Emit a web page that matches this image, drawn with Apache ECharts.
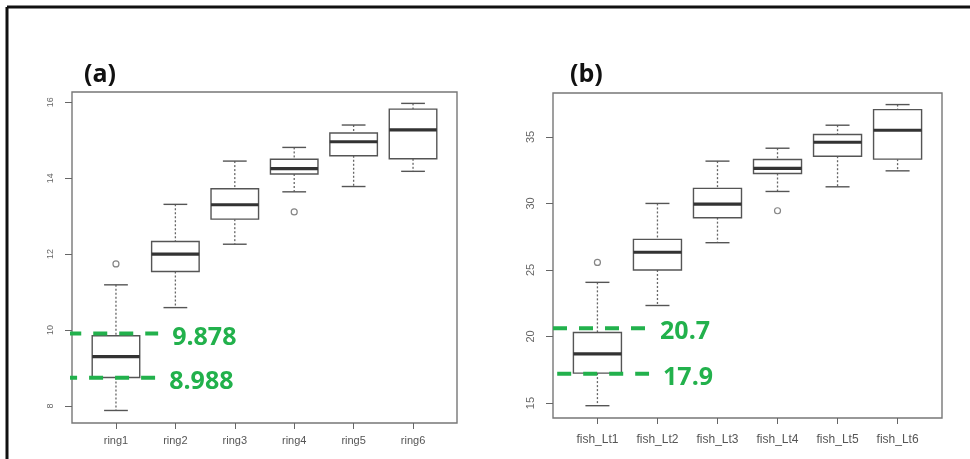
<!DOCTYPE html>
<html lang="en" style="background: #FFFFFF;height: 100%">
	<head>
		<meta charset="utf-8" />
		<title>ring / fish boxplots</title>
		<script type="text/javascript" src="https://cdn.jsdelivr.net/npm/echarts@6/dist/echarts.min.js"></script>
	</head>
	<style>
		html,body {
			margin: 0;
			padding: 0;
		}
		body {
			overflow: hidden;
		}
	</style>
	<body style="height: 100%;">
		<div id="chart" style="width: 970px;height: 459px"></div>
		<script>
			// panel (a): ring
			var ringNames = ['ring1', 'ring2', 'ring3', 'ring4', 'ring5', 'ring6'];
			var ringLow  = [7.88, 10.59, 12.26, 13.64, 13.78, 14.18];
			var ringQ1   = [8.75, 11.54, 12.92, 14.11, 14.59, 14.51];
			var ringMed  = [9.30, 12.00, 13.30, 14.25, 14.96, 15.27];
			var ringQ3   = [9.85, 12.33, 13.72, 14.50, 15.19, 15.82];
			var ringHigh = [11.19, 13.31, 14.45, 14.81, 15.40, 15.97];
			var ringOutliers = [[1, 11.74], [4, 13.11]];
			var ringTicks = [8, 10, 12, 14, 16];
			var ringMarks = [
				{ label: '9.878', y: 9.91, from: 0.18, to: 1.71 },
				{ label: '8.988', y: 8.74, from: 0.11, to: 1.66 }
			];

			// panel (b): fish
			var fishNames = ['fish_Lt1', 'fish_Lt2', 'fish_Lt3', 'fish_Lt4', 'fish_Lt5', 'fish_Lt6'];
			var fishLow  = [14.80, 22.33, 27.05, 30.90, 31.25, 32.45];
			var fishQ1   = [17.25, 25.00, 28.93, 32.25, 33.55, 33.33];
			var fishMed  = [18.70, 26.33, 29.95, 32.63, 34.60, 35.50];
			var fishQ3   = [20.30, 27.30, 31.13, 33.30, 35.18, 37.05];
			var fishHigh = [24.07, 30.00, 33.18, 34.15, 35.88, 37.43];
			var fishOutliers = [[1, 25.57], [4, 29.45]];
			var fishTicks = [15, 20, 25, 30, 35];
			var fishMarks = [
				{ label: '20.7', y: 20.62, from: 0.26, to: 1.81 },
				{ label: '17.9', y: 17.20, from: 0.33, to: 1.86 }
			];

			var GREEN = '#22b14c';
			var positions = [1, 2, 3, 4, 5, 6];

			function boxRows(low, q1, med, q3, high) {
				var rows = [];
				for (var i = 0; i < low.length; i++) {
					rows.push([positions[i], low[i], q1[i], med[i], q3[i], high[i]]);
				}
				return rows;
			}

			// R style box: dotted whiskers, half width staples, thick median
			function renderBox(params, api) {
				var x = api.value(0);
				var lo = api.coord([x, api.value(1)]);
				var q1 = api.coord([x, api.value(2)]);
				var md = api.coord([x, api.value(3)]);
				var q3 = api.coord([x, api.value(4)]);
				var hi = api.coord([x, api.value(5)]);
				var w = api.size([0.8, 0])[0];
				var cx = lo[0];
				var whisker = { stroke: '#666', lineWidth: 1.3, lineDash: [2, 2] };
				var solid = { stroke: '#555', lineWidth: 1.4 };
				return {
					type: 'group',
					children: [
						{ type: 'line', shape: { x1: cx, y1: hi[1], x2: cx, y2: q3[1] }, style: whisker },
						{ type: 'line', shape: { x1: cx, y1: q1[1], x2: cx, y2: lo[1] }, style: whisker },
						{ type: 'line', shape: { x1: cx - w / 4, y1: hi[1], x2: cx + w / 4, y2: hi[1] }, style: solid },
						{ type: 'line', shape: { x1: cx - w / 4, y1: lo[1], x2: cx + w / 4, y2: lo[1] }, style: solid },
						{ type: 'rect', shape: { x: cx - w / 2, y: q3[1], width: w, height: q1[1] - q3[1] },
							style: { fill: '#fff', stroke: '#555', lineWidth: 1.4 } },
						{ type: 'line', shape: { x1: cx - w / 2, y1: md[1], x2: cx + w / 2, y2: md[1] },
							style: { stroke: '#333', lineWidth: 3.2 } }
					]
				};
			}

			function xAxisFor(gridIndex, names, fontSize, margin) {
				return {
					gridIndex: gridIndex,
					type: 'value',
					min: 0.26,
					max: 6.74,
					splitLine: { show: false },
					axisLine: { show: false },
					axisTick: { show: true, length: 6, customValues: positions, lineStyle: { color: '#666' } },
					axisLabel: {
						customValues: positions,
						margin: margin,
						color: '#555',
						fontSize: fontSize,
						fontFamily: 'Liberation Sans',
						formatter: function (v) { return names[Math.round(v) - 1]; }
					}
				};
			}

			function yAxisFor(gridIndex, min, max, ticks, fontSize, margin) {
				return {
					gridIndex: gridIndex,
					type: 'value',
					min: min,
					max: max,
					splitLine: { show: false },
					axisLine: { show: false },
					axisTick: { show: true, length: 7, customValues: ticks, lineStyle: { color: '#666' } },
					axisLabel: {
						customValues: ticks,
						rotate: 90,
						margin: margin,
						color: '#666',
						fontSize: fontSize,
						fontFamily: 'Liberation Sans'
					}
				};
			}

			function markSeries(marks, axisIndex) {
				return marks.map(function (m) {
					return {
						type: 'line',
						xAxisIndex: axisIndex,
						yAxisIndex: axisIndex,
						clip: false,
						silent: true,
						symbol: 'none',
						animation: false,
						lineStyle: { color: GREEN, width: 4, type: [14, 12] },
						data: [[m.from, m.y], [m.to, m.y]],
						endLabel: {
							show: true,
							formatter: m.label,
							distance: 14,
							offset: [0, 4],
							color: GREEN,
							fontSize: 25,
							fontWeight: 'bold',
							fontFamily: 'Open Sans'
						}
					};
				});
			}

			function outlierSeries(points, axisIndex) {
				return {
					type: 'scatter',
					xAxisIndex: axisIndex,
					yAxisIndex: axisIndex,
					symbol: 'circle',
					symbolSize: 6,
					itemStyle: { color: '#fff', borderColor: '#666', borderWidth: 1.2 },
					data: points
				};
			}

			window.onload = function () {
				var chart = echarts.init(document.getElementById('chart'));
				chart.setOption({
					backgroundColor: '#fff',
					animation: false,
					title: [
						{ text: '(a)', left: 79, top: 57, textStyle: { fontSize: 25, fontWeight: 'bold', color: '#111', fontFamily: 'Open Sans' } },
						{ text: '(b)', left: 565, top: 57, textStyle: { fontSize: 25, fontWeight: 'bold', color: '#111', fontFamily: 'Open Sans' } }
					],
					graphic: [
						{ type: 'line', shape: { x1: 7, y1: 7, x2: 970, y2: 7 }, style: { stroke: '#111', lineWidth: 3 } },
						{ type: 'line', shape: { x1: 7, y1: 7, x2: 7, y2: 459 }, style: { stroke: '#111', lineWidth: 3 } }
					],
					grid: [
						{ left: 72, width: 385, top: 92, height: 331, show: true, borderColor: '#777', borderWidth: 1.4 },
						{ left: 553, width: 389, top: 93, height: 325, show: true, borderColor: '#777', borderWidth: 1.4 }
					],
					xAxis: [
						xAxisFor(0, ringNames, 11, 12),
						xAxisFor(1, fishNames, 12, 16)
					],
					yAxis: [
						yAxisFor(0, 7.55, 16.27, ringTicks, 9, 17),
						yAxisFor(1, 13.875, 38.3, fishTicks, 11, 17)
					],
					series: [
						{
							type: 'custom',
							xAxisIndex: 0,
							yAxisIndex: 0,
							renderItem: renderBox,
							encode: { x: 0, y: [1, 2, 3, 4, 5] },
							data: boxRows(ringLow, ringQ1, ringMed, ringQ3, ringHigh)
						},
						{
							type: 'custom',
							xAxisIndex: 1,
							yAxisIndex: 1,
							renderItem: renderBox,
							encode: { x: 0, y: [1, 2, 3, 4, 5] },
							data: boxRows(fishLow, fishQ1, fishMed, fishQ3, fishHigh)
						},
						outlierSeries(ringOutliers, 0),
						outlierSeries(fishOutliers, 1)
					].concat(markSeries(ringMarks, 0), markSeries(fishMarks, 1))
				});
			};
		</script>
	</body>
</html>
